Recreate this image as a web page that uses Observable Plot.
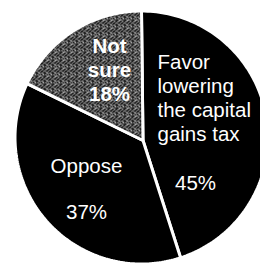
<!DOCTYPE html>
<html><head><meta charset="utf-8">
<script src="https://cdn.jsdelivr.net/npm/d3@7"></script>
<script src="https://cdn.jsdelivr.net/npm/@observablehq/plot@0.6"></script>
<style>body{margin:0;background:#fff;} svg{display:block}</style>
</head><body><div id="chart"></div>
<script>
// Data
const categories = ["Favor lowering the capital gains tax", "Oppose", "Not sure"];
const shares = [45, 37, 18];
const labelLines = [["Favor", "lowering", "the capital", "gains tax"], ["Oppose"], ["Not", "sure"]];
const shareLabels = ["45%", "37%", "18%"];

// Layout
const W = 260, H = 266, cx = 141, cy = 137, R = 126.5, ax = 142.5, ay = 140;
const arcs = d3.pie().sort(null).value(d => d)(shares);
const pts = [];
arcs.forEach((a, i) => {
  pts.push({cat: categories[i], x: ax, y: ay});
  const n = 120;
  for (let k = 0; k <= n; k++) {
    const t = a.startAngle + (a.endAngle - a.startAngle) * k / n;
    pts.push({cat: categories[i], x: cx + R * Math.sin(t), y: cy - R * Math.cos(t)});
  }
});

const labelLayout = [
  {x: 157, y0: 68, lh: 24, anchor: "start", weight: "normal", pctX: 195, pctY: 189},
  {x: 86, y0: 172, lh: 24, anchor: "middle", weight: "normal", pctX: 86, pctY: 218},
  {x: 109, y0: 52, lh: 24, anchor: "middle", weight: "bold", pctX: 109, pctY: 100}
];
const rows = [];
labelLayout.forEach((L, i) => {
  labelLines[i].forEach((t, j) => rows.push({t, x: L.x, y: L.y0 + j * L.lh, anchor: L.anchor, weight: L.weight}));
  rows.push({t: shareLabels[i], x: L.pctX, y: L.pctY, anchor: "middle", weight: L.weight});
});

const textMark = (anchor, weight) => Plot.text(rows.filter(r => r.anchor === anchor && r.weight === weight), {
  x: "x", y: "y", text: "t", textAnchor: anchor, lineAnchor: "bottom",
  fill: "white", fontSize: 20.5, fontWeight: weight
});

const chart = Plot.plot({
  width: W, height: H,
  marginTop: 0, marginRight: 0, marginBottom: 0, marginLeft: 0,
  style: {fontFamily: "'Liberation Sans', Arial, sans-serif", background: "white"},
  x: {domain: [0, W], range: [0, W], axis: null},
  y: {domain: [0, H], range: [0, H], axis: null},
  color: {type: "ordinal", domain: categories, range: ["#000", "#000", "url(#stip)"]},
  marks: [
    Plot.line(pts, {x: "x", y: "y", z: "cat", fill: "cat", stroke: "white", strokeWidth: 3, strokeLinejoin: "miter", curve: "linear-closed"}),
    textMark("start", "normal"),
    textMark("middle", "normal"),
    textMark("middle", "bold")
  ]
});

// halftone-like texture tile (0 black, 1 white, 2 gray)
const tile = [
  "01020010",
  "20100201",
  "00210100",
  "12000021",
  "00102010",
  "01000102",
  "20012000",
  "00200101"
];
const cols = {"0": "#000", "1": "#fff", "2": "#8a8a8a"};
const defs = d3.select(chart).insert("defs", ":first-child");
const pat = defs.append("pattern").attr("id", "stip").attr("width", 8).attr("height", 8).attr("patternUnits", "userSpaceOnUse");
tile.forEach((row, yy) => row.split("").forEach((b, xx) => {
  pat.append("rect").attr("x", xx).attr("y", yy).attr("width", 1).attr("height", 1).attr("fill", cols[b]);
}));

document.getElementById("chart").appendChild(chart);
</script>
</body></html>
